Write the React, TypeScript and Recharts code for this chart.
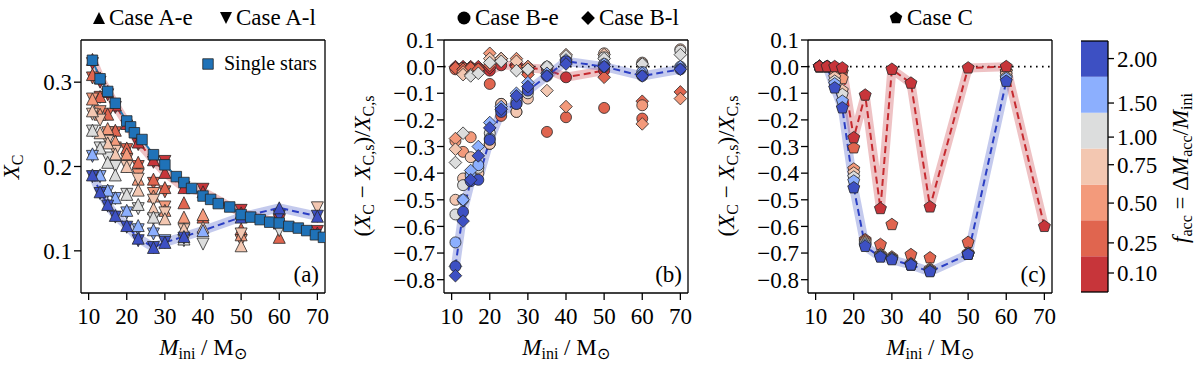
import React from 'react';
import { ComposedChart, Scatter, Line, XAxis, YAxis, ReferenceLine, BarChart, Bar } from 'recharts';

// ---------- data ----------
const masses = [11, 13, 15, 17, 20, 23, 27, 30, 35, 40, 50, 60, 70];
const fLabels = ['0.10', '0.25', '0.50', '0.75', '1.00', '1.50', '2.00'];
const fColors = ['#c7353a', '#e0654f', '#f39a7b', '#f3c7b1', '#dcdddd', '#8caffe', '#3d50c3'];

const singleMasses = [11, 13, 15, 17, 20, 21, 22, 24, 27, 30, 33, 35, 37, 40, 42, 44, 47, 50, 52.5, 55, 57.5, 60, 62.5, 65, 67.2, 69.5, 71.6];
const singleXc = [0.326, 0.304, 0.289, 0.275, 0.254, 0.247, 0.240, 0.232, 0.214, 0.202, 0.188, 0.181, 0.174, 0.165, 0.161, 0.156, 0.152, 0.143, 0.140, 0.137, 0.134, 0.133, 0.129, 0.127, 0.124, 0.119, 0.116];

// Case A-e (up triangles), X_C
const aeF010 = [0.327, 0.305, 0.289, 0.273, 0.251, 0.229, 0.208, 0.193, 0.175, 0.170, 0.145, 0.133, 0.121];
const aeF025 = [0.309, 0.283, 0.262, 0.243, 0.222, 0.205, 0.185, 0.175, 0.157, 0.140, 0.126, 0.116, null];
const aeF050 = [0.280, 0.262, 0.245, 0.230, 0.215, 0.185, 0.165, 0.148, 0.140, 0.143, 0.119, null, null];
const aeF075 = [0.266, 0.240, 0.228, 0.215, 0.200, 0.172, 0.150, 0.138, 0.126, 0.128, 0.106, null, null];
const aeF100 = [0.243, 0.222, 0.205, 0.190, 0.167, 0.155, 0.140, null, 0.114, null, null, null, null];
const aeF150 = [0.215, 0.190, 0.172, 0.163, 0.148, 0.130, 0.125, null, null, 0.124, null, null, null];
const aeF200 = [0.190, 0.170, 0.155, 0.142, 0.130, 0.115, 0.104, 0.110, 0.117, null, 0.140, 0.151, 0.141];
// Case A-l (down triangles), X_C
const alF010 = [0.322, 0.300, 0.285, 0.270, 0.248, 0.226, 0.205, 0.206, 0.175, 0.173, 0.148, 0.136, 0.123];
const alF025 = [0.305, 0.282, 0.262, 0.240, 0.220, 0.200, 0.180, 0.170, null, null, null, null, null];
const alF050 = [0.280, 0.265, 0.240, 0.222, 0.208, 0.190, 0.168, 0.152, null, null, 0.112, null, null];
const alF075 = [0.262, 0.255, 0.230, 0.218, 0.200, 0.185, 0.160, 0.145, 0.125, null, 0.120, null, 0.151];
const alF100 = [0.242, 0.222, 0.210, 0.200, 0.167, 0.150, 0.138, null, 0.112, 0.108, null, 0.124, null];
const alF150 = [0.212, 0.188, 0.170, 0.162, 0.145, 0.125, 0.120, 0.112, null, null, null, null, null];
const alF200 = [0.188, 0.168, 0.153, 0.140, 0.128, 0.112, 0.104, 0.110, 0.115, null, null, 0.141, 0.141];

// Case B-e (circles), relative change
const beF010 = [-0.005, -0.005, -0.005, -0.005, -0.015, 0.005, 0.005, -0.005, -0.010, -0.040, -0.015, null, null];
const beF025 = [-0.010, -0.005, -0.005, -0.010, -0.065, -0.185, null, -0.020, -0.245, -0.190, -0.155, -0.195, null];
const beF050 = [-0.280, -0.320, -0.265, null, -0.290, -0.140, -0.170, null, null, null, null, -0.145, null];
const beF075 = [-0.500, -0.420, -0.340, -0.400, -0.290, -0.140, -0.170, -0.120, null, null, 0.050, 0.015, 0.065];
const beF100 = [-0.555, -0.445, -0.400, -0.380, -0.250, -0.160, -0.140, -0.100, 0.000, 0.030, 0.035, 0.010, 0.060];
const beF150 = [-0.660, -0.500, -0.410, -0.370, -0.270, -0.160, -0.130, -0.080, -0.030, 0.020, 0.010, -0.020, 0.000];
const beF200 = [-0.750, -0.545, -0.430, -0.425, -0.275, -0.170, -0.140, -0.090, -0.035, 0.020, 0.000, -0.035, -0.010];
// Case B-l (diamonds)
const blF010 = [0.000, 0.000, 0.000, 0.000, -0.005, 0.030, 0.010, 0.000, null, null, null, null, null];
const blF025 = [-0.005, -0.010, -0.005, -0.010, 0.005, 0.020, 0.000, -0.030, null, null, -0.040, -0.130, -0.095];
const blF050 = [-0.270, -0.020, null, null, 0.050, 0.030, 0.030, 0.000, null, -0.150, null, -0.215, -0.120];
const blF075 = [-0.310, -0.030, -0.030, null, 0.030, 0.030, 0.020, -0.010, -0.090, 0.045, 0.045, null, null];
const blF100 = [-0.360, -0.250, -0.035, -0.025, 0.015, 0.020, -0.015, -0.010, 0.000, 0.040, 0.030, 0.010, 0.045];
const blF150 = [-0.750, -0.500, -0.390, -0.300, -0.210, -0.150, -0.100, -0.060, -0.025, 0.025, 0.010, -0.025, 0.000];
const blF200 = [-0.785, -0.580, -0.425, -0.335, -0.230, -0.160, -0.110, -0.075, -0.035, 0.010, 0.000, -0.035, -0.010];

// Case C (pentagons)
const cF010 = [0.000, 0.000, 0.000, -0.005, -0.267, -0.107, -0.533, -0.010, -0.062, -0.527, -0.005, 0.000, -0.600];
const cF025 = [0.000, 0.000, -0.005, -0.020, -0.305, -0.650, -0.668, -0.593, -0.706, -0.718, -0.660, -0.018, null];
const cF050 = [0.000, 0.000, -0.020, -0.045, -0.385, -0.655, -0.705, -0.715, -0.740, -0.760, -0.700, -0.020, null];
const cF075 = [0.000, 0.000, -0.040, -0.090, -0.400, -0.660, -0.710, -0.720, -0.745, -0.765, -0.705, -0.030, null];
const cF100 = [0.000, 0.000, -0.055, -0.105, -0.415, -0.665, -0.710, -0.720, -0.745, -0.765, -0.705, -0.040, null];
const cF150 = [0.000, 0.000, -0.065, -0.130, -0.430, -0.670, -0.713, -0.722, -0.745, -0.768, -0.705, -0.045, null];
const cF200 = [0.000, 0.000, -0.080, -0.155, -0.455, -0.675, -0.715, -0.725, -0.745, -0.770, -0.705, -0.055, null];

// highlighted tracks
const trackARed = aeF010;
const trackABlue = [0.190, 0.170, 0.155, 0.142, 0.130, 0.115, 0.104, 0.110, 0.117, 0.124, 0.140, 0.151, 0.141];
const trackBRed = beF010;
const trackBBlue = beF200;
const trackCRed = cF010;
const trackCBlue = cF200;

const xTicks = [10, 20, 30, 40, 50, 60, 70];
const yTicksA = [0.1, 0.2, 0.3];
const yTicksBC = [-0.8, -0.7, -0.6, -0.5, -0.4, -0.3, -0.2, -0.1, 0, 0.1];
const cbTickPos = [0.53, 1.37, 2.48, 3.55, 4.32, 5.27, 6.51];

const tableAe = [aeF010, aeF025, aeF050, aeF075, aeF100, aeF150, aeF200];
const tableAl = [alF010, alF025, alF050, alF075, alF100, alF150, alF200];
const tableBe = [beF010, beF025, beF050, beF075, beF100, beF150, beF200];
const tableBl = [blF010, blF025, blF050, blF075, blF100, blF150, blF200];
const tableC = [cF010, cF025, cF050, cF075, cF100, cF150, cF200];
const cOrder = [1, 2, 3, 4, 5, 6, 0];

// ---------- helpers ----------
const FONT = 'Liberation Serif, Times New Roman, serif';
const toPts = (xs: number[], ys: (number | null)[]) =>
  xs.map((x, i) => ({ x, y: ys[i] })).filter((d) => d.y !== null && d.y !== undefined);

const fmt = (v: number) => (Math.abs(v) < 1e-9 ? '0.0' : v.toFixed(1)).replace('-', '\u2212');

function shapePath(kind: string, cx: number, cy: number, s: number) {
  const h = s / 2;
  switch (kind) {
    case 'up':
      return `M${cx},${cy - h}L${cx + h},${cy + h}L${cx - h},${cy + h}Z`;
    case 'down':
      return `M${cx},${cy + h}L${cx + h},${cy - h}L${cx - h},${cy - h}Z`;
    case 'diamond': {
      const d = h * 1.15;
      return `M${cx},${cy - d}L${cx + d},${cy}L${cx},${cy + d}L${cx - d},${cy}Z`;
    }
    case 'square':
      return `M${cx - h},${cy - h}L${cx + h},${cy - h}L${cx + h},${cy + h}L${cx - h},${cy + h}Z`;
    case 'pentagon': {
      const r = h * 1.1;
      const pts = [0, 1, 2, 3, 4].map((k) => {
        const a = -Math.PI / 2 + (k * 2 * Math.PI) / 5;
        return `${cx + r * Math.cos(a)},${cy + r * Math.sin(a)}`;
      });
      return `M${pts.join('L')}Z`;
    }
    default:
      return '';
  }
}

function marker(kind: string, fill: string, size: number) {
  return (props: any) => {
    const { cx, cy } = props;
    if (cx == null || cy == null || isNaN(cx) || isNaN(cy)) return <g />;
    if (kind === 'circle') {
      return <circle cx={cx} cy={cy} r={size / 2} fill={fill} stroke="#262626" strokeWidth={0.8} />;
    }
    return <path d={shapePath(kind, cx, cy, size)} fill={fill} stroke="#262626" strokeWidth={0.8} strokeLinejoin="miter" />;
  };
}

const axisStroke = { stroke: '#000', strokeWidth: 1.3 };
const tickFont = { fontSize: 23, fontFamily: FONT, fill: '#000' };

function frameAxes(yDomain: number[], yTicks: number[], leftWidth: number) {
  return [
    <XAxis key="xb" xAxisId="b" orientation="bottom" dataKey="x" type="number" domain={[8, 72]} ticks={xTicks}
      height={74} tickSize={7} tickMargin={8} tick={tickFont} axisLine={axisStroke} tickLine={axisStroke}
      allowDataOverflow interval={0} />,
    <XAxis key="xt" xAxisId="t" orientation="top" dataKey="x" type="number" domain={[8, 72]} ticks={xTicks}
      height={40} tickSize={7} tick={false} axisLine={axisStroke} tickLine={axisStroke} allowDataOverflow interval={0} />,
    <YAxis key="yl" yAxisId="l" orientation="left" dataKey="y" type="number" domain={yDomain} ticks={yTicks}
      width={leftWidth} tickSize={7} tickMargin={2} tick={tickFont} tickFormatter={fmt} axisLine={axisStroke}
      tickLine={axisStroke} allowDataOverflow interval={0} />,
    <YAxis key="yr" yAxisId="r" orientation="right" dataKey="y" type="number" domain={yDomain} ticks={yTicks}
      width={12} tickSize={7} tick={false} axisLine={axisStroke} tickLine={axisStroke} allowDataOverflow interval={0} />,
  ];
}

function track(arr: (number | null)[], color: string, dash: string, key: string) {
  const pts = toPts(masses, arr);
  return [
    <Line key={`${key}band`} xAxisId="b" yAxisId="l" data={pts} dataKey="y" stroke={color} strokeOpacity={0.3}
      strokeWidth={9} strokeLinejoin="round" strokeLinecap="round" dot={false} activeDot={false} isAnimationActive={false} />,
    <Line key={`${key}dash`} xAxisId="b" yAxisId="l" data={pts} dataKey="y" stroke={dash} strokeWidth={2}
      strokeDasharray="7 4" dot={false} activeDot={false} isAnimationActive={false} />,
  ];
}

const W = 336;
const H = 367;
const M0 = { top: 0, right: 0, bottom: 0, left: 0 };

function PanelA() {
  const single = toPts(singleMasses, singleXc);
  return (
    <ComposedChart width={337} height={H} margin={M0}>
      {frameAxes([0.05, 0.35], yTicksA, 81)}
      {tableAe.map((arr, i) => [
        <Scatter key={`al${i}`} xAxisId="b" yAxisId="l" data={toPts(masses, tableAl[i])}
          shape={marker('down', fColors[i], 12)} isAnimationActive={false} />,
        <Scatter key={`ae${i}`} xAxisId="b" yAxisId="l" data={toPts(masses, arr)}
          shape={marker('up', fColors[i], 12)} isAnimationActive={false} />,
      ])}
      {track(trackARed, fColors[0], '#c62a2f', 'ar')}
      {track(trackABlue, fColors[6], '#2b3fc4', 'ab')}
      <Line xAxisId="b" yAxisId="l" data={single} dataKey="y" stroke="#1f77b4" strokeWidth={2} dot={false}
        activeDot={false} isAnimationActive={false} />
      <Scatter xAxisId="b" yAxisId="l" data={single} shape={marker('square', '#1f72b8', 10.5)} isAnimationActive={false} />
    </ComposedChart>
  );
}

function PanelB() {
  return (
    <ComposedChart width={W} height={H} margin={M0}>
      {frameAxes([-0.85, 0.1], yTicksBC, 80)}
      <ReferenceLine xAxisId="b" yAxisId="l" y={0} stroke="#000" strokeWidth={1.6} strokeDasharray="1.6 4.4" />
      {track(trackBRed, fColors[0], '#c62a2f', 'br')}
      {track(trackBBlue, fColors[6], '#2b3fc4', 'bb')}
      {tableBe.map((arr, i) => [
        <Scatter key={`be${i}`} xAxisId="b" yAxisId="l" data={toPts(masses, arr)}
          shape={marker('circle', fColors[i], 11)} isAnimationActive={false} />,
        <Scatter key={`bl${i}`} xAxisId="b" yAxisId="l" data={toPts(masses, tableBl[i])}
          shape={marker('diamond', fColors[i], 11)} isAnimationActive={false} />,
      ])}
    </ComposedChart>
  );
}

function PanelC() {
  return (
    <ComposedChart width={W} height={H} margin={M0}>
      {frameAxes([-0.85, 0.1], yTicksBC, 80)}
      <ReferenceLine xAxisId="b" yAxisId="l" y={0} stroke="#000" strokeWidth={1.6} strokeDasharray="1.6 4.4" />
      {track(trackCRed, fColors[0], '#c62a2f', 'cr')}
      {track(trackCBlue, fColors[6], '#2b3fc4', 'cb')}
      {cOrder.map((i) => (
        <Scatter key={`c${i}`} xAxisId="b" yAxisId="l" data={toPts(masses, tableC[i])}
          shape={marker('pentagon', fColors[i], 11.5)} isAnimationActive={false} />
      ))}
    </ComposedChart>
  );
}

const cbData = [{ name: 'cb', b0: 1, b1: 1, b2: 1, b3: 1, b4: 1, b5: 1, b6: 1 }];

function ColorBar() {
  return (
    <BarChart width={95} height={H} data={cbData} margin={M0} barCategoryGap={0}>
      <XAxis xAxisId="b" dataKey="name" orientation="bottom" height={75} tick={false} tickLine={false} axisLine={axisStroke} />
      <XAxis xAxisId="t" dataKey="name" orientation="top" height={41} tick={false} tickLine={false} axisLine={axisStroke} />
      <YAxis yAxisId="l" orientation="left" width={0} type="number" domain={[0, 7]} tick={false} tickLine={false}
        axisLine={axisStroke} allowDataOverflow />
      <YAxis yAxisId="r" orientation="right" width={68} type="number" domain={[0, 7]} ticks={cbTickPos} interval={0}
        tickSize={6} tickMargin={3} tick={tickFont} axisLine={axisStroke} tickLine={axisStroke} allowDataOverflow
        tickFormatter={(v: number) => fLabels[cbTickPos.indexOf(v)] ?? ''} />
      {fColors.map((c, i) => (
        <Bar key={i} xAxisId="b" yAxisId="r" dataKey={`b${i}`} stackId="cb" fill={c} isAnimationActive={false} />
      ))}
    </BarChart>
  );
}

function Overlay() {
  const sub = 16;
  const fs = 23;
  return (
    <svg width={1200} height={367} style={{ position: 'absolute', left: 0, top: 0, pointerEvents: 'none' }}
      fontFamily={FONT} fill="#000">
      {/* top legends */}
      <path d={shapePath('up', 99, 18, 12)} fill="#000" />
      <text x={109} y={25} fontSize={fs}>Case A-e</text>
      <path d={shapePath('down', 226, 18, 12)} fill="#000" />
      <text x={236} y={25} fontSize={fs}>Case A-l</text>
      <circle cx={464} cy={18} r={6.5} fill="#000" />
      <text x={475} y={25} fontSize={fs}>Case B-e</text>
      <path d={shapePath('diamond', 588, 18, 12)} fill="#000" />
      <text x={599} y={25} fontSize={fs}>Case B-l</text>
      <path d={shapePath('pentagon', 896, 18, 12)} fill="#000" />
      <text x={907} y={25} fontSize={fs}>Case C</text>

      {/* single stars legend */}
      <path d={shapePath('square', 208, 64, 10.5)} fill="#1f72b8" stroke="#262626" strokeWidth={0.8} />
      <text x={224} y={70} fontSize={20}>Single stars</text>

      {/* panel letters */}
      <text x={319} y={282} fontSize={fs} textAnchor="end">(a)</text>
      <text x={682} y={282} fontSize={fs} textAnchor="end">(b)</text>
      <text x={1046} y={282} fontSize={fs} textAnchor="end">(c)</text>

      {/* x labels */}
      {[203, 566, 930].map((cx) => (
        <text key={cx} x={cx} y={355} fontSize={fs} textAnchor="middle">
          <tspan fontStyle="italic">M</tspan>
          <tspan fontSize={sub} dy={4}>ini</tspan>
          <tspan dy={-4}> / M</tspan>
          <tspan fontSize={sub} dy={4}>{'\u2299'}</tspan>
        </text>
      ))}

      {/* y labels */}
      <text transform="translate(19,167) rotate(-90)" fontSize={fs} textAnchor="middle">
        <tspan fontStyle="italic">X</tspan>
        <tspan fontSize={sub} dy={4}>C</tspan>
      </text>
      {[370, 734].map((x) => (
        <text key={x} transform={`translate(${x},166) rotate(-90)`} fontSize={fs} textAnchor="middle">
          <tspan>(</tspan>
          <tspan fontStyle="italic">X</tspan>
          <tspan fontSize={sub} dy={4}>C</tspan>
          <tspan dy={-4}> {'\u2212'} </tspan>
          <tspan fontStyle="italic">X</tspan>
          <tspan fontSize={sub} dy={4}>C,s</tspan>
          <tspan dy={-4}>)/</tspan>
          <tspan fontStyle="italic">X</tspan>
          <tspan fontSize={sub} dy={4}>C,s</tspan>
        </text>
      ))}

      {/* colorbar label */}
      <text transform="translate(1188,168) rotate(-90)" fontSize={fs} textAnchor="middle">
        <tspan fontStyle="italic">f</tspan>
        <tspan fontSize={sub} dy={4}>acc</tspan>
        <tspan dy={-4}> = {'\u0394'}</tspan>
        <tspan fontStyle="italic">M</tspan>
        <tspan fontSize={sub} dy={4}>acc</tspan>
        <tspan dy={-4}>/</tspan>
        <tspan fontStyle="italic">M</tspan>
        <tspan fontSize={sub} dy={4}>ini</tspan>
      </text>
    </svg>
  );
}

export default function App() {
  return (
    <div style={{ position: 'relative', width: 1200, height: 367, background: '#fff', overflow: 'hidden' }}>
      <style>{'body{margin:0}'}</style>
      <div style={{ position: 'absolute', left: 0, top: 0 }}><PanelA /></div>
      <div style={{ position: 'absolute', left: 364, top: 0 }}><PanelB /></div>
      <div style={{ position: 'absolute', left: 728, top: 0 }}><PanelC /></div>
      <div style={{ position: 'absolute', left: 1081, top: 0 }}><ColorBar /></div>
      <Overlay />
    </div>
  );
}
